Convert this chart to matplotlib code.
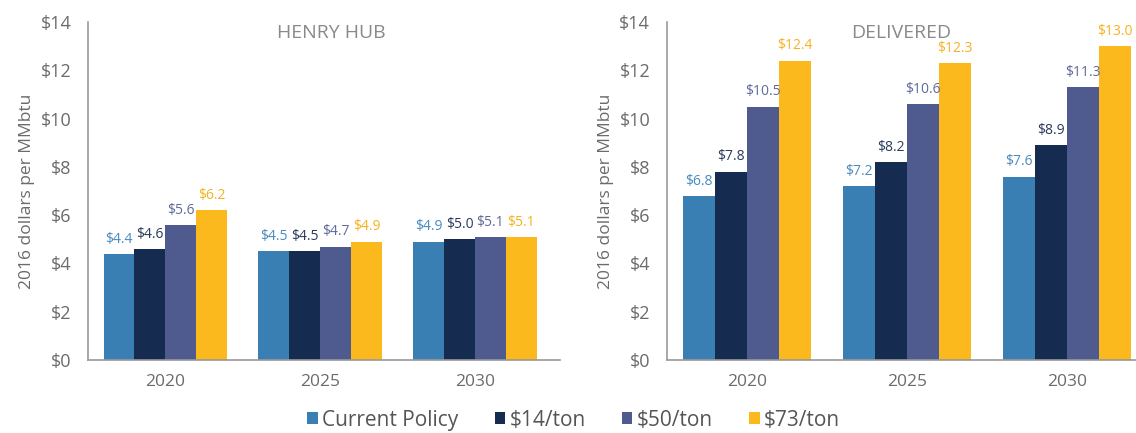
import matplotlib
matplotlib.use("Agg")
import matplotlib.pyplot as plt
import numpy as np

plt.rcParams['font.family'] = ['Open Sans', 'DejaVu Sans']

# Dados
anos = ["2020", "2025", "2030"]
cenarios = ["Current Policy", "$14/ton", "$50/ton", "$73/ton"]
henry_hub = [
    [4.4, 4.5, 4.9],   # Current Policy
    [4.6, 4.5, 5.0],   # $14/ton
    [5.6, 4.7, 5.1],   # $50/ton
    [6.2, 4.9, 5.1],   # $73/ton
]
delivered = [
    [6.8, 7.2, 7.6],
    [7.8, 8.2, 8.9],
    [10.5, 10.6, 11.3],
    [12.4, 12.3, 13.0],
]

cores = ["#3a7fb3", "#152b50", "#4f5b8e", "#fbb91d"]
cores_rotulo = ["#4a8bbf", "#2a3a5c", "#5f6a9a", "#f5b220"]
cinza = "#6b6b6b"

fig = plt.figure(figsize=(11.36, 4.33), dpi=100)
ax1 = fig.add_axes([0.0775, 0.1686, 0.4155, 0.7805])
ax2 = fig.add_axes([0.587, 0.1686, 0.413, 0.7805])


def plotar(ax, valores, titulo, xmax, xtit):
    x = np.arange(len(anos))
    largura = 0.2
    for i, serie in enumerate(valores):
        pos = x + (i - 1.5) * largura
        ax.bar(pos, serie, largura, color=cores[i], label=cenarios[i])
        for px, v in zip(pos, serie):
            ax.text(px, v + 0.3, f"${v:.1f}", ha="center", va="bottom",
                    fontsize=10, color=cores_rotulo[i])

    ax.set_ylim(0, 14)
    ax.set_xlim(-0.5, xmax)
    ax.set_yticks(range(0, 15, 2))
    ax.set_yticklabels([f"${t}" for t in range(0, 15, 2)])
    ax.set_xticks(x)
    ax.set_xticklabels(anos)
    ax.tick_params(length=0, labelsize=13, colors=cinza, pad=12)
    ax.tick_params(axis="x", pad=10, labelsize=12.5)
    for s in ["top", "right"]:
        ax.spines[s].set_visible(False)
    for s in ["left", "bottom"]:
        ax.spines[s].set_color("#999999")
        ax.spines[s].set_linewidth(1.2)
    ax.set_ylabel("2016 dollars per MMbtu", fontsize=12.5, color=cinza, labelpad=4)
    ax.text(xtit, 0.995, titulo, transform=ax.transAxes, ha="center", va="top",
            fontsize=14, color="#8a8a8a")


plotar(ax1, henry_hub, "HENRY HUB", 2.55, 0.515)
plotar(ax2, delivered, "DELIVERED", 2.43, 0.5)

handles, labels = ax1.get_legend_handles_labels()
fig.legend(handles, labels, loc="lower center", ncol=4, frameon=False,
           bbox_to_anchor=(0.505, -0.038), fontsize=15, handlelength=0.5,
           handleheight=0.5, handletextpad=0.2, columnspacing=1.75,
           labelcolor="#555555")

fig.savefig("out.png", dpi=100)
